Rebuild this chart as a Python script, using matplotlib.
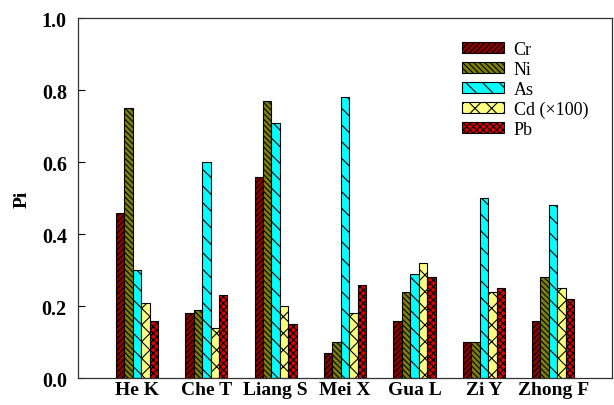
import matplotlib
matplotlib.use("Agg")
import matplotlib.pyplot as plt
import numpy as np

plt.rcParams['hatch.linewidth'] = 0.8
plt.rcParams['font.family'] = ['Liberation Serif', 'DejaVu Serif']

sites = ["He K", "Che T", "Liang S", "Mei X", "Gua L", "Zi Y", "Zhong F"]
series = ["Cr", "Ni", "As", "Cd (\u00d7100)", "Pb"]
cr = [0.46, 0.18, 0.56, 0.07, 0.16, 0.10, 0.16]
ni = [0.75, 0.19, 0.77, 0.10, 0.24, 0.10, 0.28]
as_ = [0.30, 0.60, 0.71, 0.78, 0.29, 0.50, 0.48]
cd = [0.21, 0.14, 0.20, 0.18, 0.32, 0.24, 0.25]
pb = [0.16, 0.23, 0.15, 0.26, 0.28, 0.25, 0.22]
yticks = [0.0, 0.2, 0.4, 0.6, 0.8, 1.0]

values = [cr, ni, as_, cd, pb]
colors = ["#8B0000", "#808000", "#00FFFF", "#FFFF80", "#E00000"]
hatches = ["//////", "\\\\\\\\\\\\", "\\\\", "xx", "xxxxx"]

fig = plt.figure(figsize=(6.14, 4.06), dpi=100)
ax = fig.add_axes([0.127, 0.066, 0.870, 0.887])

x = np.arange(len(sites))
w = 0.122
for i, (vals, c, h, lab) in enumerate(zip(values, colors, hatches, series)):
    ax.bar(x + (i - 2) * w, vals, width=w, color=c, edgecolor="black",
           hatch=h, linewidth=0.8, label=lab)

ax.set_xlim(-0.85, 6.85)
ax.set_ylim(0, 1.0)
ax.set_yticks(yticks)
ax.set_yticklabels([f"{t:.1f}" for t in yticks], fontsize=14.5, fontweight="bold")
ax.set_xticks(x)
ax.set_xticklabels(sites, fontsize=14, fontweight="bold")
ax.tick_params(axis="y", direction="in", length=5, width=0.8, pad=8)
ax.tick_params(axis="x", length=0, pad=2)
ax.set_ylabel("Pi", fontsize=14, fontweight="bold", labelpad=8)
for s in ax.spines.values():
    s.set_linewidth(0.9)
    s.set_color("#333333")

leg = ax.legend(loc="upper left", bbox_to_anchor=(0.719, 0.937), frameon=False,
                fontsize=13, handlelength=2.3, handleheight=0.55,
                handletextpad=0.55, labelspacing=0.16, borderaxespad=0,
                borderpad=0)

fig.savefig("out.png", dpi=100)
